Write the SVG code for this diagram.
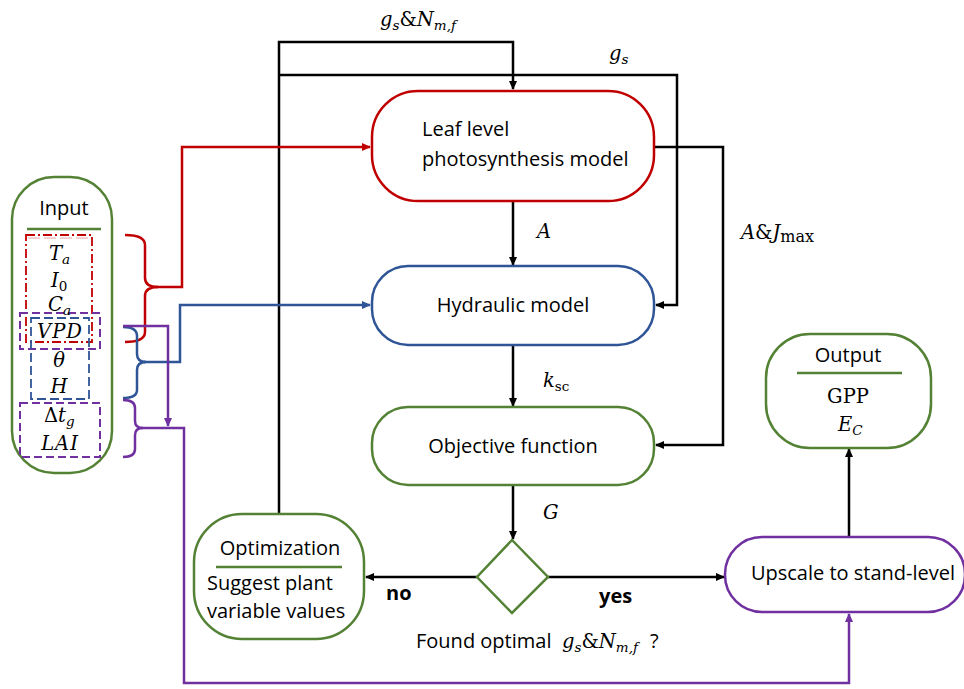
<svg xmlns="http://www.w3.org/2000/svg" width="964" height="689" viewBox="0 0 964 689">
<style>
.t{font-family:"Open Sans","Noto Sans",sans-serif;font-size:20px;fill:#000}
.m{font-family:"DejaVu Serif","Liberation Serif",serif;font-style:italic;font-size:19.5px;fill:#000}
.s{font-size:13.5px}
.r{font-style:normal}
.box{fill:#fff;stroke-width:2.5}
.k{fill:none;stroke:#000;stroke-width:2.5}
.red{stroke:#C00000}.blue{stroke:#2F5597}.grn{stroke:#548235}.pur{stroke:#7030A0}
.c{fill:none;stroke-width:2.5}
</style>
<defs>
<marker id="ak" markerUnits="userSpaceOnUse" markerWidth="9" markerHeight="9" refX="8" refY="4.5" orient="auto"><path d="M0,0.5 L9,4.5 L0,8.5z" fill="#000"/></marker>
<marker id="ar" markerUnits="userSpaceOnUse" markerWidth="9" markerHeight="9" refX="8" refY="4.5" orient="auto"><path d="M0,0.5 L9,4.5 L0,8.5z" fill="#C00000"/></marker>
<marker id="ab" markerUnits="userSpaceOnUse" markerWidth="9" markerHeight="9" refX="8" refY="4.5" orient="auto"><path d="M0,0.5 L9,4.5 L0,8.5z" fill="#2F5597"/></marker>
<marker id="ap" markerUnits="userSpaceOnUse" markerWidth="9" markerHeight="9" refX="8" refY="4.5" orient="auto"><path d="M0,0.5 L9,4.5 L0,8.5z" fill="#7030A0"/></marker>
</defs>

<g id="connectors">
<path class="k" d="M279,514 V42 H513 V89" marker-end="url(#ak)"/>
<path class="k" d="M279,75 H677 V305 H656" marker-end="url(#ak)"/>
<path class="k" d="M654,147 H723 V445 H656" marker-end="url(#ak)"/>
<path class="k" d="M513,201 V265" marker-end="url(#ak)"/>
<path class="k" d="M513,345 V406" marker-end="url(#ak)"/>
<path class="k" d="M513,485 V539" marker-end="url(#ak)"/>
<path class="k" d="M548,577 H724" marker-end="url(#ak)"/>
<path class="k" d="M477,577 H366" marker-end="url(#ak)"/>
<path class="k" d="M849,537 V449" marker-end="url(#ak)"/>
<path class="c red" d="M125,235 Q145,235 145,245 L145,278 Q145,287 158,287 Q145,287 145,296 L145,332 Q145,342 125,342"/>
<path class="c red" d="M156,287 H182 V147 H370" marker-end="url(#ar)"/>
<path class="c blue" d="M123,327 Q137,327 137,336 L137,354 Q137,362 146,362 Q137,362 137,370 L137,390 Q137,398 123,398"/>
<path class="c blue" d="M144,362 H180 V305 H370" marker-end="url(#ab)"/>
<path class="c pur" d="M123,326 H168 V426" marker-end="url(#ap)"/>
<path class="c pur" d="M123,400 Q135,400 135,408 L135,421 Q135,428 143,428 Q135,428 135,435 L135,449 Q135,457 123,457"/>
<path class="c pur" d="M141,428 H184 V683 H849 V614" marker-end="url(#ap)"/>
</g>

<g id="input">
<rect class="box grn" x="12" y="177" width="100" height="296" rx="42"/>
<text class="t" x="64" y="215" text-anchor="middle">Input</text>
<line x1="27" y1="229" x2="101" y2="229" stroke="#548235" stroke-width="2.5"/>
<rect x="26" y="235" width="66" height="107" fill="none" stroke="#C00000" stroke-width="1.8" stroke-dasharray="9,3,2,3"/>
<line x1="28" y1="238" x2="90" y2="238" stroke="#E8A0A0" stroke-width="1" stroke-dasharray="12,4"/>
<rect x="20" y="313" width="80" height="36" fill="none" stroke="#7030A0" stroke-width="2" stroke-dasharray="8,4"/>
<rect x="31" y="318" width="58" height="81" fill="none" stroke="#2F5597" stroke-width="1.8" stroke-dasharray="9,4"/>
<rect x="20" y="403" width="80" height="54" fill="none" stroke="#7030A0" stroke-width="2" stroke-dasharray="8,4"/>
<text class="m" x="49" y="260">T<tspan class="s" dy="4">a</tspan></text>
<text class="m" x="51" y="287">I<tspan class="s r" dy="4">0</tspan></text>
<text class="m" x="48" y="311">C<tspan class="s" dy="4">a</tspan></text>
<text class="m" x="60" y="338" text-anchor="middle" font-size="17" letter-spacing="1">VPD</text>
<text class="m" x="59" y="367" text-anchor="middle">θ</text>
<text class="m" x="59" y="393" text-anchor="middle">H</text>
<text class="m" x="44" y="422"><tspan class="r">Δ</tspan>t<tspan class="s" dy="4">g</tspan></text>
<text class="m" x="60" y="450" text-anchor="middle" font-size="17" letter-spacing="1">LAI</text>
</g>

<g id="leaf">
<rect class="box red" x="372" y="91" width="282" height="110" rx="46"/>
<text class="t" x="422" y="136">Leaf level</text>
<text class="t" x="422" y="166">photosynthesis model</text>
</g>

<g id="hydraulic">
<rect class="box blue" x="372" y="266" width="282" height="79" rx="36"/>
<text class="t" x="513" y="312" text-anchor="middle">Hydraulic model</text>
</g>

<g id="objective">
<rect class="box grn" x="372" y="407" width="282" height="78" rx="36"/>
<text class="t" x="513" y="453" text-anchor="middle">Objective function</text>
</g>

<g id="decision">
<path d="M512,540 L548,577 L512,613 L477,577z" fill="#fff" stroke="#548235" stroke-width="2.5"/>
<text class="t" x="416" y="648">Found optimal</text>
<text class="m" x="562" y="648">g<tspan class="s" dy="4">s</tspan><tspan class="r" dy="-4">&amp;</tspan>N<tspan class="s" dy="4">m,f</tspan></text>
<text class="t" x="650" y="648">?</text>
</g>

<g id="optimization">
<rect class="box grn" x="194" y="514" width="170" height="125" rx="48"/>
<text class="t" x="280" y="555" text-anchor="middle">Optimization</text>
<line x1="216" y1="567" x2="342" y2="567" stroke="#548235" stroke-width="2.5"/>
<text class="t" x="207" y="590">Suggest plant</text>
<text class="t" x="207" y="618">variable values</text>
</g>

<g id="upscale">
<rect class="box pur" x="725" y="537" width="240" height="75" rx="37"/>
<text class="t" x="853" y="580" text-anchor="middle" font-size="20.5">Upscale to stand-level</text>
</g>

<g id="output">
<rect class="box grn" x="766" y="334" width="165" height="114" rx="44"/>
<text class="t" x="848" y="362" text-anchor="middle">Output</text>
<line x1="797" y1="373" x2="902" y2="373" stroke="#548235" stroke-width="2.5"/>
<text class="m r" x="848" y="403" text-anchor="middle" font-size="17" font-family="Liberation Serif, serif">GPP</text>
<text class="m" x="838" y="431">E<tspan class="s" dy="4">C</tspan></text>
</g>

<g id="labels">
<text class="m" x="380" y="26">g<tspan class="s" dy="4">s</tspan><tspan class="r" dy="-4">&amp;</tspan>N<tspan class="s" dy="4">m,f</tspan></text>
<text class="m" x="609" y="60">g<tspan class="s" dy="4">s</tspan></text>
<text class="m" x="537" y="238">A</text>
<text class="m" x="543" y="387">k<tspan class="s r" dy="4">sc</tspan></text>
<text class="m" x="543" y="519">G</text>
<text class="m" x="741" y="239">A<tspan class="r">&amp;</tspan>J<tspan class="r" font-size="16" dy="3">max</tspan></text>
<text class="t" x="386" y="600" font-weight="bold" font-size="19">no</text>
<text class="t" x="599" y="603" font-weight="bold" font-size="19">yes</text>
</g>
</svg>
